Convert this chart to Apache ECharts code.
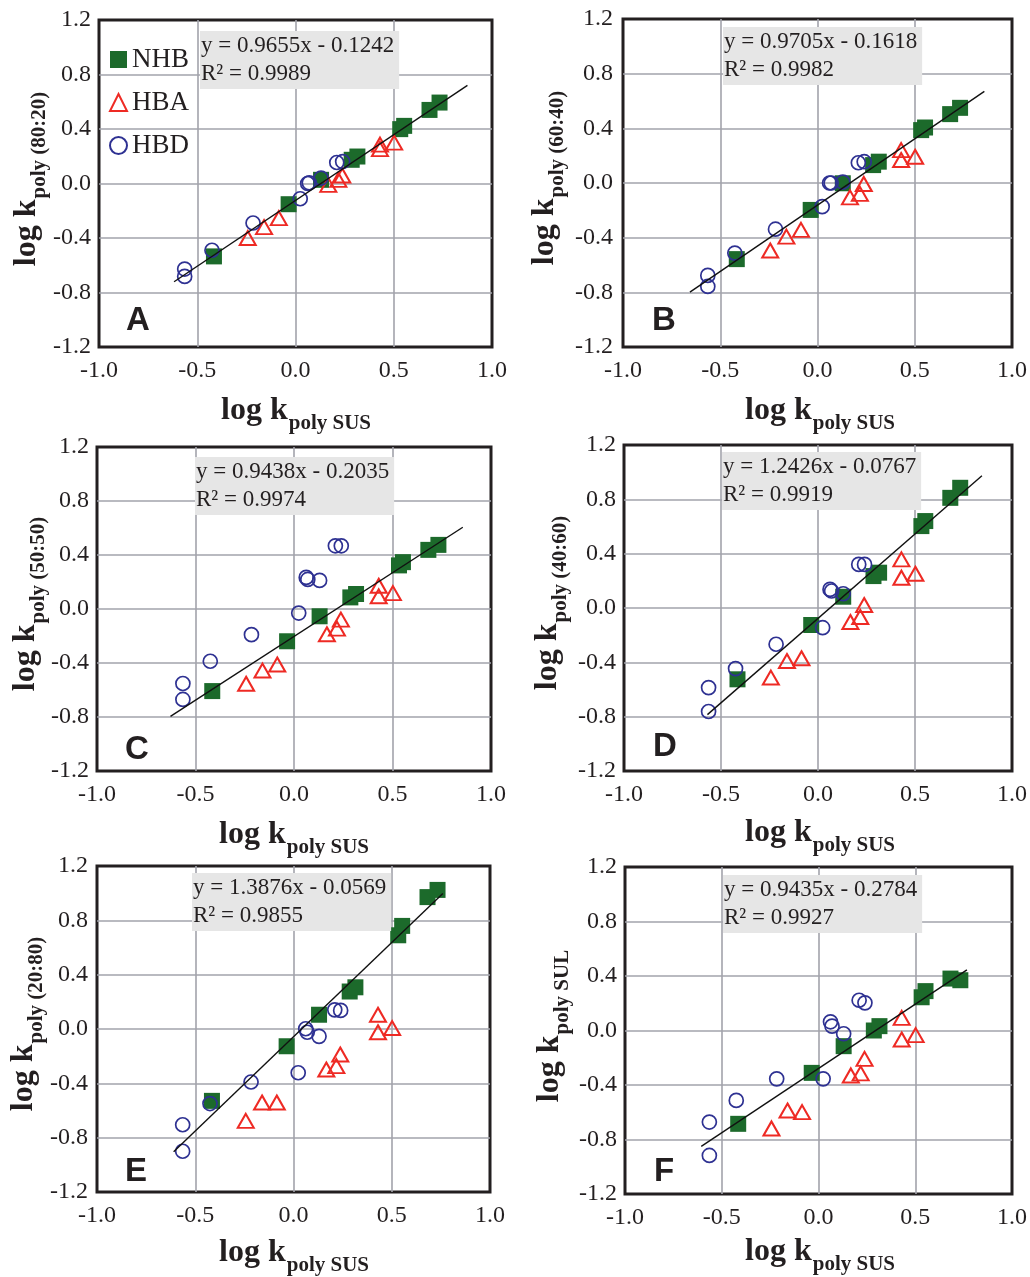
<!DOCTYPE html>
<html><head><meta charset="utf-8">
<script src="https://cdn.jsdelivr.net/npm/echarts@6/dist/echarts.min.js"></script>
<style>html,body{margin:0;padding:0;background:#fff}#c{width:1030px;height:1277px}</style>
</head><body><div id="c"></div>
<script>
// ---------- DATA ----------
// x = log k_poly SUS (shared by all panels)
const xNHB = [-0.415, -0.035, 0.13, 0.286, 0.315, 0.533, 0.553, 0.682, 0.733];
const xHBA = [-0.243, -0.16, -0.085, 0.167, 0.218, 0.238, 0.43, 0.43, 0.502];
const xHBD = [-0.564, -0.564, -0.425, -0.216, 0.024, 0.062, 0.07, 0.13, 0.21, 0.24];

// Panel A: log k_poly (80:20)
const nhbA = [-0.535, -0.152, 0.027, 0.174, 0.198, 0.399, 0.423, 0.540, 0.594];
const hbaA = [-0.40, -0.32, -0.254, -0.01, 0.027, 0.059, 0.285, 0.252, 0.30];
const hbdA = [-0.628, -0.682, -0.49, -0.29, -0.112, 0.0, 0.005, 0.04, 0.154, 0.161];
// Panel B: log k_poly (60:40)
const nhbB = [-0.557, -0.197, -0.002, 0.131, 0.156, 0.387, 0.406, 0.504, 0.55];
const hbaB = [-0.494, -0.392, -0.343, -0.105, -0.080, -0.007, 0.241, 0.168, 0.192];
const hbdB = [-0.676, -0.757, -0.513, -0.338, -0.173, 0.0, 0.0, 0.007, 0.148, 0.156];
// Panel C: log k_poly (50:50)
const nhbC = [-0.608, -0.239, -0.054, 0.086, 0.111, 0.323, 0.347, 0.438, 0.475];
const hbaC = [-0.554, -0.456, -0.411, -0.187, -0.145, -0.079, 0.172, 0.094, 0.118];
const hbdC = [-0.552, -0.670, -0.387, -0.190, -0.030, 0.234, 0.219, 0.212, 0.468, 0.468];
// Panel D: log k_poly (40:60)
const nhbD = [-0.525, -0.125, 0.083, 0.235, 0.26, 0.603, 0.64, 0.811, 0.885];
const hbaD = [-0.512, -0.39, -0.37, -0.103, -0.066, 0.022, 0.358, 0.223, 0.252];
const hbdD = [-0.586, -0.762, -0.446, -0.267, -0.145, 0.137, 0.125, 0.105, 0.321, 0.321];
// Panel E: log k_poly (20:80)
const nhbE = [-0.529, -0.127, 0.105, 0.276, 0.307, 0.69, 0.759, 0.971, 1.024];
const hbaE = [-0.676, -0.541, -0.541, -0.298, -0.273, -0.188, 0.105, -0.024, 0.007];
const hbdE = [-0.705, -0.90, -0.549, -0.39, -0.322, 0.002, -0.024, -0.054, 0.141, 0.137];
// Panel F: log k_poly SUL
const nhbF = [-0.685, -0.311, -0.115, 0.0, 0.032, 0.244, 0.289, 0.381, 0.369];
const hbaF = [-0.719, -0.587, -0.599, -0.33, -0.315, -0.208, 0.093, -0.066, -0.034];
const hbdF = [-0.672, -0.917, -0.513, -0.355, -0.355, 0.064, 0.032, -0.024, 0.222, 0.203];

const panelLetters = ['A', 'B', 'C', 'D', 'E', 'F'];
const yTitleSubs = ['poly (80:20)', 'poly (60:40)', 'poly (50:50)', 'poly (40:60)', 'poly (20:80)', 'poly SUL'];
const xTitleSub = 'poly SUS';
const groupNames = ['NHB', 'HBA', 'HBD'];
const slopes = [0.9655, 0.9705, 0.9438, 1.2426, 1.3876, 0.9435];
const intercepts = [-0.1242, -0.1618, -0.2035, -0.0767, -0.0569, -0.2784];
const r2Values = ['0.9989', '0.9982', '0.9974', '0.9919', '0.9855', '0.9927'];
const fitStart = [-0.618, -0.656, -0.627, -0.57, -0.61, -0.606];
const fitEnd = [0.875, 0.858, 0.857, 0.845, 0.76, 0.767];

// ---------- LAYOUT / STYLE ----------
const SERIF = '"Liberation Serif", "Times New Roman", serif';
const SANS = '"Liberation Sans", Arial, sans-serif';
const INK = '#231f20';
const GREEN = '#1c6a2b', RED = '#ee2a24', BLUE = '#2e3192';
const grids = [
  {left: 99, top: 20, width: 393, height: 327},
  {left: 623, top: 19, width: 393, height: 328},
  {left: 97, top: 447, width: 394, height: 324},
  {left: 624, top: 445, width: 391, height: 326},
  {left: 97, top: 866, width: 393, height: 326},
  {left: 625, top: 867, width: 391, height: 327}
];
const yLabelMargin = [8, 10, 8, 8, 9, 8];
const yTitlePos = [[27, 179], [545, 178], [26, 604], [548, 603], [24, 1024], [550, 1026]];
const xTitlePos = [[296, 411], [820, 411], [294, 835], [820, 833], [294, 1253], [820, 1252]];
const letterPos = [[138, 321], [664, 321], [137, 750], [665, 747], [136, 1172], [664, 1172]];
const eqPos = [[200, 31], [723, 27], [195, 457], [722, 452], [192, 873], [723, 875]];

const yNHB = [nhbA, nhbB, nhbC, nhbD, nhbE, nhbF];
const yHBA = [hbaA, hbaB, hbaC, hbaD, hbaE, hbaF];
const yHBD = [hbdA, hbdB, hbdC, hbdD, hbdE, hbdF];

const zip = (xs, ys) => xs.map((x, i) => [x, ys[i]]);
const fmt = v => (Math.abs(v) < 1e-9 ? '0.0' : v.toFixed(1));

const option = {
  animation: false,
  backgroundColor: '#fff',
  grid: [], xAxis: [], yAxis: [], series: [], graphic: [],
  legend: {
    data: groupNames,
    orient: 'vertical',
    left: 109, top: 46, padding: 0,
    itemWidth: 17, itemHeight: 17, itemGap: 16,
    selectedMode: false,
    textStyle: {fontFamily: SERIF, fontSize: 27, color: INK}
  }
};

const titleRich = {
  m: {fontSize: 32, fontWeight: 'bold', fontFamily: SERIF, fill: INK, lineHeight: 32},
  s: {fontSize: 21, fontWeight: 'bold', fontFamily: SERIF, fill: INK, lineHeight: 21, padding: [25, 0, 0, 1]}
};

for (let i = 0; i < 6; i++) {
  option.grid.push(Object.assign({show: true, borderColor: INK, borderWidth: 3, backgroundColor: '#fff', z: 0}, grids[i]));
  option.xAxis.push({
    gridIndex: i, type: 'value', min: -1, max: 1, interval: 0.5,
    axisLine: {show: false}, axisTick: {show: false},
    axisLabel: {formatter: fmt, fontFamily: SERIF, fontSize: 24, color: INK, margin: 12, showMinLabel: true, showMaxLabel: true},
    splitLine: {show: true, showMinLine: false, showMaxLine: false, lineStyle: {color: '#a2a3ab', width: 1.6}}
  });
  option.yAxis.push({
    gridIndex: i, type: 'value', min: -1.2, max: 1.2, interval: 0.4,
    axisLine: {show: false}, axisTick: {show: false},
    axisLabel: {formatter: fmt, fontFamily: SERIF, fontSize: 24, color: INK, margin: yLabelMargin[i], showMinLabel: true, showMaxLabel: true},
    splitLine: {show: true, showMinLine: false, showMaxLine: false, lineStyle: {color: '#a2a3ab', width: 1.6}}
  });
  option.series.push({
    name: 'NHB', type: 'scatter', xAxisIndex: i, yAxisIndex: i,
    symbol: 'rect', symbolSize: 16,
    itemStyle: {color: GREEN, opacity: 1},
    data: zip(xNHB, yNHB[i]), z: 3
  });
  option.series.push({
    name: 'HBA', type: 'scatter', xAxisIndex: i, yAxisIndex: i,
    symbol: 'triangle', symbolSize: [16, 14],
    itemStyle: {color: 'rgba(255,255,255,0)', borderColor: RED, borderWidth: 2, opacity: 1},
    data: zip(xHBA, yHBA[i]), z: 4
  });
  option.series.push({
    name: 'HBD', type: 'scatter', xAxisIndex: i, yAxisIndex: i,
    symbol: 'circle', symbolSize: 14,
    itemStyle: {color: 'rgba(255,255,255,0)', borderColor: BLUE, borderWidth: 1.7, opacity: 1},
    data: zip(xHBD, yHBD[i]), z: 5
  });
  const xs = [fitStart[i], fitEnd[i]];
  option.series.push({
    name: 'fit' + panelLetters[i], type: 'line', xAxisIndex: i, yAxisIndex: i,
    symbol: 'none', silent: true, z: 6,
    lineStyle: {color: '#111', width: 1.4},
    data: xs.map(x => [x, slopes[i] * x + intercepts[i]])
  });
  const b = intercepts[i];
  option.graphic.push({
    type: 'text', x: eqPos[i][0], y: eqPos[i][1], z: 10,
    style: {
      text: 'y = ' + slopes[i].toFixed(4) + 'x ' + (b < 0 ? '- ' : '+ ') + Math.abs(b).toFixed(4) + '\nR\u00B2 = ' + r2Values[i],
      fontFamily: SERIF, fontSize: 23, lineHeight: 28, fill: INK,
      backgroundColor: '#e6e6e6', padding: [1, 5, 1, 1],
      align: 'left', verticalAlign: 'top'
    }
  });
  option.graphic.push({
    type: 'text', x: letterPos[i][0], y: letterPos[i][1], z: 10,
    style: {text: panelLetters[i], fontFamily: SANS, fontWeight: 'bold', fontSize: 33, fill: INK, align: 'center', verticalAlign: 'middle'}
  });
  option.graphic.push({
    type: 'text', x: yTitlePos[i][0], y: yTitlePos[i][1], rotation: Math.PI / 2, z: 10,
    style: {text: '{m|log k}{s|' + yTitleSubs[i] + '}', rich: titleRich, align: 'center', verticalAlign: 'middle'}
  });
  option.graphic.push({
    type: 'text', x: xTitlePos[i][0], y: xTitlePos[i][1], z: 10,
    style: {text: '{m|log k}{s|' + xTitleSub + '}', rich: titleRich, align: 'center', verticalAlign: 'middle'}
  });
}

const chart = echarts.init(document.getElementById('c'), null, {renderer: 'canvas'});
chart.setOption(option);
</script>
</body></html>
